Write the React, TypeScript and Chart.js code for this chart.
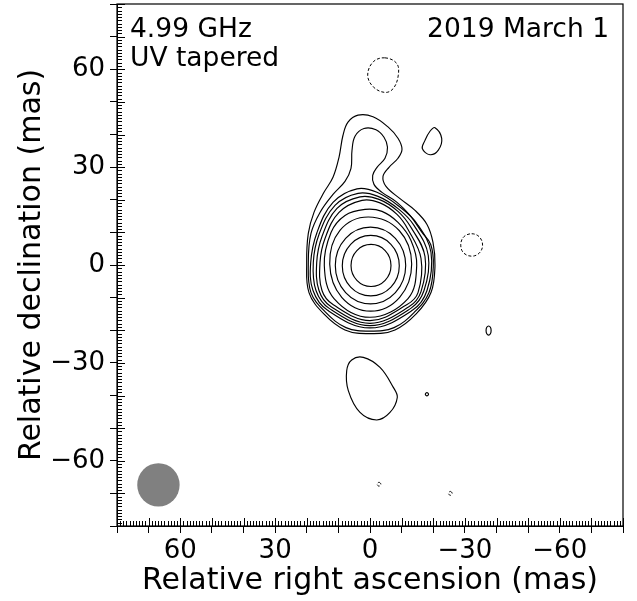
import React, { useEffect, useRef } from 'react';
import { Chart, registerables } from 'chart.js';

Chart.register(...registerables);

// ---- axis ----
const AXIS_MIN = -80;
const AXIS_MAX = 80;
const MAJOR_STEP = 10;
const MINOR_STEP = 1;
const LABELLED_TICKS = [-60, -30, 0, 30, 60];

// ---- annotations ----
const FREQ_LABEL = '4.99 GHz';
const MODE_LABEL = 'UV tapered';
const DATE_LABEL = '2019 March 1';
const X_TITLE = 'Relative right ascension (mas)';
const Y_TITLE = 'Relative declination (mas)';

// ---- restoring beam (mas) ----
const BEAM_CENTER = [66.9, -67.4];
const BEAM_RADIUS = [6.7, 6.65];

// ---- positive contours (mas: [RA, Dec]) ----
const C1 = [[3.79,45.92],[-0.95,45.45],[-5.69,42.32],[-8.85,38.85],[-10.12,35.47],[-8.85,32.71],[-6.01,29.94],[-4.11,27.18],[-5.06,24.11],[-9.49,20.33],[-14.23,16.74],[-18.02,12.44],[-19.92,6.91],[-20.55,-0.15],[-19.29,-8.45],[-14.6,-15.0],[-7.91,-19.9],[0,-21.04],[7.91,-19.9],[14.6,-15.0],[19.29,-8.45],[20.02,0.77],[19.51,9.67],[17.71,16.12],[14.55,22.27],[11.7,26.87],[9.8,33.02],[8.54,39.77],[6.96,43.77]];
const C2 = [[1.9,41.83],[-1.9,41.46],[-4.43,39.16],[-5.53,36.09],[-4.74,32.71],[-2.21,29.94],[-0.85,27.49],[-1.26,24.72],[-3.79,22.27],[-8.54,19.2],[-12.65,15.2],[-16.44,9.98],[-19.2,6.3],[-20.02,-0.15],[-18.66,-8.45],[-14.0,-14.5],[-7.6,-19.2],[0,-20.27],[7.6,-19.2],[14.0,-14.5],[18.66,-8.45],[19.51,0.77],[18.66,9.67],[15.81,16.12],[11.7,21.65],[7.91,25.65],[6.01,29.64],[5.69,35.17],[4.74,39.47]];
const C3 = [[4.11,23.34],[-2.21,22.27],[-9.49,17.75],[-14.86,12.65],[-19.29,3.84],[-18.02,-7.83],[-13.4,-13.9],[0,-19.29],[13.4,-13.9],[18.02,-7.83],[18.75,0.77],[16.76,9.98],[11.7,19.2]];
const C4 = [[3.79,21.96],[-2.53,21.04],[-9.17,17.05],[-13.91,12.13],[-18.43,2.92],[-17.08,-7.83],[-12.9,-13.3],[0,-18.58],[12.9,-13.3],[17.08,-7.83],[17.93,0.77],[16.13,9.37],[11.07,18.27]];
const C5 = [[3.16,20.88],[-2.85,20.12],[-8.85,16.43],[-12.96,11.52],[-17.39,2.61],[-16.13,-8.14],[-12.3,-12.8],[0,-17.87],[12.3,-12.8],[16.13,-7.83],[16.85,0.77],[15.18,8.75],[10.43,17.35]];
const C6 = [[2.53,19.81],[-3.16,19.04],[-8.54,15.51],[-12.02,10.9],[-16.13,2.0],[-15.18,-8.45],[-11.6,-12.2],[0,-17.05],[11.6,-12.2],[15.18,-7.83],[15.81,0.77],[14.23,8.14],[9.8,16.12]];
const C7 = [[1.58,17.05],[-3.79,16.43],[-8.85,13.05],[-12.96,7.52],[-14.77,-0.15],[-12.02,-10.29],[0,-16.03],[11.38,-10.29],[14.45,-0.15],[12.33,9.98],[7.91,15.2]];
const C8 = [[0.5,14.71],[-9.3,10.5],[-13.18,0.28],[-9.38,-9.9],[-0.22,-14.15],[8.94,-9.9],[12.74,0.28],[9.5,10.6]];
const C9 = [[-0.16,11.61],[-8.03,8.17],[-11.29,-0.15],[-8.03,-8.47],[-0.16,-11.91],[7.71,-8.47],[10.97,-0.15],[7.71,8.17]];
const C10 = [[-0.25,9.06],[-6.62,6.35],[-9.26,-0.21],[-6.62,-6.77],[-0.25,-9.48],[6.12,-6.77],[8.76,-0.21],[6.12,6.35]];
const C11 = [[-0.32,6.3],[-4.79,4.41],[-6.64,-0.15],[-4.79,-4.71],[-0.32,-6.6],[4.15,-4.71],[6.0,-0.15],[4.15,4.41]];
const P_NE = [[-20.55,42.1],[-22.67,38.8],[-21.6,35.2],[-18.97,33.8],[-16.54,35.7],[-17.39,38.2],[-18.97,41.0]];
const P_SMALL = [[-37.5,-18.7],[-38.07,-19.1],[-38.3,-20.1],[-38.07,-21.1],[-37.5,-21.5],[-36.93,-21.1],[-36.7,-20.1],[-36.93,-19.1]];
const P_SOUTH = [[2.12,-28.3],[-3.16,-31.4],[-7.37,-37.5],[-8.63,-40.6],[-6.32,-45.2],[-2.12,-47.5],[3.16,-45.2],[6.86,-38.5],[7.37,-32.4],[5.79,-29.1]];
const P_DOT = [[-18.0,-39.1],[-18.5,-39.6],[-18.0,-40.1],[-17.5,-39.6]];

// ---- negative contours ----
const N_NORTH = [[-4.74,63.5],[-8.44,61.8],[-8.95,58.2],[-7.37,54.1],[-4.74,52.9],[-1.04,54.6],[0.73,58.2],[-1.04,62.3]];
const N_EAST = [[-32.15,9.58],[-34.6,8.6],[-35.6,6.1],[-34.6,3.7],[-32.15,2.7],[-29.6,3.7],[-28.7,6.1],[-29.6,8.6]];
const N_S1 = [[-2.85,-66.6],[-3.45,-67.2],[-2.85,-67.8],[-2.25,-67.2]];
const N_S2 = [[-25.4,-69.4],[-26.0,-70.0],[-25.4,-70.6],[-24.8,-70.0]];

const POSITIVE = [C1, C2, C3, C4, C5, C6, C7, C8, C9, C10, C11, P_NE, P_SMALL, P_SOUTH, P_DOT];
const NEGATIVE = [N_NORTH, N_EAST, N_S1, N_S2];

const FONT = "'DejaVu Sans', sans-serif";

const fmt = (v: number) => (v < 0 ? '\u2212' + Math.abs(v) : String(Math.abs(v)));

const closeLoops = {
  id: 'closeLoops',
  afterDatasetUpdate(chart: any, args: any) {
    const line = args.meta.dataset;
    if (line) {
      line._loop = true;
      line._pointsUpdated = false;
      delete line._segments;
      delete line._path;
    }
  },
};

const decor = {
  id: 'decor',
  beforeDatasetsDraw(chart: any) {
    const { ctx, scales } = chart;
    const x = scales.x, y = scales.y;
    const cx = x.getPixelForValue(BEAM_CENTER[0]);
    const cy = y.getPixelForValue(BEAM_CENTER[1]);
    const rx = Math.abs(x.getPixelForValue(BEAM_CENTER[0] + BEAM_RADIUS[0]) - cx);
    const ry = Math.abs(y.getPixelForValue(BEAM_CENTER[1] + BEAM_RADIUS[1]) - cy);
    ctx.save();
    ctx.fillStyle = '#808080';
    ctx.beginPath();
    ctx.ellipse(cx, cy, rx, ry, 0, 0, Math.PI * 2);
    ctx.fill();
    ctx.restore();
  },
  afterDraw(chart: any) {
    const { ctx, chartArea: a, scales } = chart;
    const x = scales.x, y = scales.y;
    ctx.save();
    ctx.strokeStyle = '#000';
    ctx.lineWidth = 1;
    ctx.beginPath();
    for (let v = AXIS_MIN; v <= AXIS_MAX; v += MINOR_STEP) {
      const major = v % MAJOR_STEP === 0;
      const len = major ? 8 : 5;
      const px = Math.round(x.getPixelForValue(v)) + 0.5;
      ctx.moveTo(px, a.bottom);
      ctx.lineTo(px, a.bottom - len);
      const py = Math.round(y.getPixelForValue(v)) + 0.5;
      ctx.moveTo(a.left, py);
      ctx.lineTo(a.left + len, py);
    }
    ctx.stroke();
    ctx.lineWidth = 1.2;
    ctx.strokeRect(a.left, a.top, a.right - a.left, a.bottom - a.top);
    ctx.fillStyle = '#000';
    ctx.font = `26.5px ${FONT}`;
    ctx.textBaseline = 'alphabetic';
    ctx.textAlign = 'left';
    ctx.fillText(FREQ_LABEL, a.left + 13, a.top + 33);
    ctx.fillText(MODE_LABEL, a.left + 13, a.top + 62);
    ctx.textAlign = 'right';
    ctx.fillText(DATE_LABEL, a.right - 14, a.top + 33);
    ctx.restore();
  },
};

export default function App() {
  const ref = useRef<HTMLCanvasElement>(null);
  useEffect(() => {
    if (!ref.current) return;
    const mk = (c: number[][], dashed: boolean) => ({
      data: c.map(([x, y]) => ({ x, y })),
      borderColor: '#000',
      borderWidth: dashed ? 1 : 1.15,
      borderDash: dashed ? [3, 2] : [],
      pointRadius: 0,
      pointHoverRadius: 0,
      tension: 0.38,
      spanGaps: true,
      fill: false,
    });
    const datasets = [
      ...POSITIVE.map((c) => mk(c, false)),
      ...NEGATIVE.map((c) => mk(c, true)),
    ];
    const tickCb = (v: any) => (LABELLED_TICKS.includes(Number(v)) ? fmt(Number(v)) : '');
    const chart = new Chart(ref.current, {
      type: 'line',
      data: { datasets },
      options: {
        animation: false,
        responsive: false,
        devicePixelRatio: 1,
        events: [],
        layout: { padding: { top: 4, right: 14, left: 0, bottom: 0 } },
        plugins: { legend: { display: false }, tooltip: { enabled: false } },
        scales: {
          x: {
            type: 'linear',
            reverse: true,
            min: AXIS_MIN,
            max: AXIS_MAX,
            afterFit: (s: any) => { s.height = 75; s.paddingLeft = 0; s.paddingRight = 0; },
            border: { display: true, color: '#000', width: 1 },
            grid: { drawOnChartArea: false, drawTicks: true, tickLength: 7, tickColor: '#000', tickWidth: 1 },
            ticks: { stepSize: MAJOR_STEP, autoSkip: false, maxRotation: 0, padding: 3, color: '#000', font: { family: FONT, size: 26 }, callback: tickCb },
            title: { display: true, text: X_TITLE, color: '#000', font: { family: FONT, size: 30 }, padding: { top: 0, bottom: 2 } },
          },
          y: {
            type: 'linear',
            min: AXIS_MIN,
            max: AXIS_MAX,
            afterFit: (s: any) => { s.width = 117; s.paddingTop = 0; s.paddingBottom = 0; },
            border: { display: true, color: '#000', width: 1 },
            grid: { drawOnChartArea: false, drawTicks: true, tickLength: 7, tickColor: '#000', tickWidth: 1 },
            ticks: { stepSize: MAJOR_STEP, autoSkip: false, padding: 5, color: '#000', font: { family: FONT, size: 26 }, callback: tickCb },
            title: { display: true, text: Y_TITLE, color: '#000', font: { family: FONT, size: 30 }, padding: { top: 14, bottom: 0 } },
          },
        },
      },
      plugins: [closeLoops, decor],
    } as any);
    return () => chart.destroy();
  }, []);
  return (
    <div style={{ position: 'absolute', left: 0, top: 0, width: 637, height: 601, background: '#fff' }}>
      <canvas ref={ref} width={637} height={601} style={{ display: 'block' }} />
    </div>
  );
}
